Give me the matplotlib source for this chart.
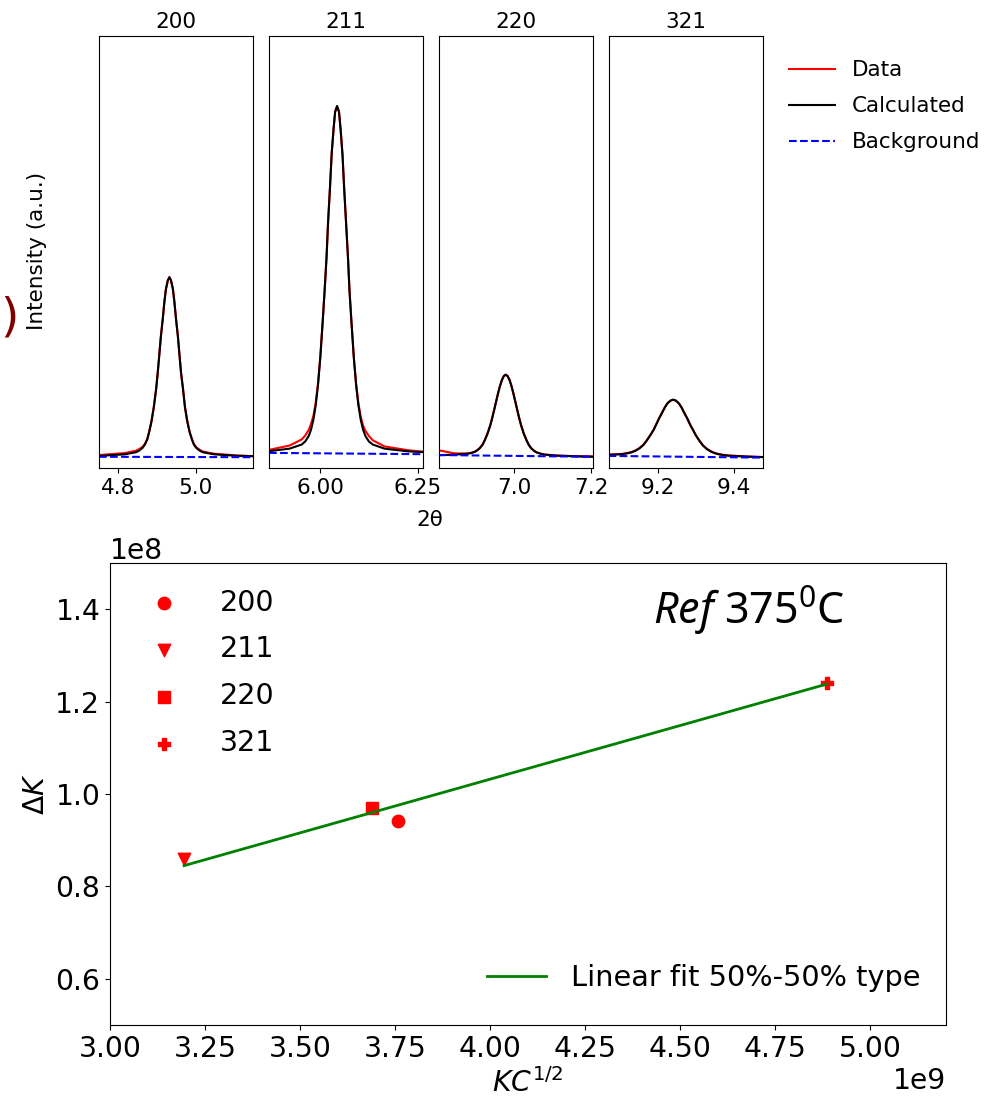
import matplotlib.pyplot as plt
from matplotlib.ticker import MultipleLocator

plt.rcParams['mathtext.rm'] = 'Noto Sans'
plt.rcParams['mathtext.it'] = 'Noto Sans:italic'

# --- Picos de difraccion (intensidad en % de la altura del panel) ---
reflexiones = ['200', '211', '220', '321']

tt_200 = [4.751, 4.817, 4.846, 4.854, 4.863, 4.869, 4.875, 4.880, 4.886, 4.892, 4.898, 4.902,
          4.906, 4.910, 4.915, 4.919, 4.923, 4.928, 4.932,
          4.936, 4.941, 4.945, 4.949, 4.954, 4.958, 4.962, 4.967, 4.972, 4.978, 4.984, 4.990,
          4.995, 5.001, 5.010, 5.018, 5.047, 5.105, 5.147]
calc_200 = [2.81, 3.16, 3.65, 4.01, 4.66, 5.42, 6.58, 8.31, 10.76, 14.09, 18.31, 22.03,
            26.09, 30.33, 34.51, 38.31, 41.40, 43.44, 44.15,
            43.44, 41.40, 38.31, 34.51, 30.33, 26.09, 22.03, 18.31, 14.09, 10.76, 8.31, 6.58,
            5.42, 4.66, 4.01, 3.65, 3.16, 2.83, 2.73]
dat_200 = [3.00, 3.45, 4.00, 4.35, 4.90, 5.60, 6.70, 8.40, 10.90, 14.20, 18.40, 22.10,
           26.20, 30.40, 34.60, 38.40, 41.30, 43.40, 44.20,
           43.50, 41.50, 38.40, 34.60, 30.40, 26.10, 22.00, 18.40, 14.20, 10.90, 8.40, 6.70,
           5.55, 4.80, 4.20, 3.80, 3.30, 2.90, 2.75]
fondo_tt_200 = [4.751, 5.147]
fondo_200 = [2.6, 2.5]

tt_211 = [5.868, 5.921, 5.952, 5.961, 5.970, 5.976, 5.982, 5.988, 5.994, 6.000, 6.006, 6.011,
          6.016, 6.020, 6.025, 6.029, 6.034, 6.038, 6.043,
          6.048, 6.052, 6.057, 6.061, 6.066, 6.071, 6.075, 6.080, 6.086, 6.092, 6.098, 6.104,
          6.110, 6.116, 6.125, 6.135, 6.165, 6.226, 6.264]
calc_211 = [3.89, 4.48, 5.43, 6.12, 7.39, 8.85, 11.10, 14.44, 19.19, 25.62, 33.80, 40.99,
            48.85, 57.06, 65.14, 72.51, 78.49, 82.42, 83.80,
            82.42, 78.49, 72.51, 65.14, 57.06, 48.85, 40.99, 33.80, 25.62, 19.19, 14.44, 11.10,
            8.85, 7.39, 6.12, 5.43, 4.48, 3.84, 3.68]
dat_211 = [4.20, 5.20, 6.60, 7.50, 8.80, 10.20, 12.00, 15.00, 19.60, 25.90, 33.90, 41.00,
           48.90, 57.10, 65.30, 72.60, 78.40, 82.40, 83.70,
           82.50, 78.60, 72.60, 65.20, 57.10, 48.90, 41.10, 33.90, 25.80, 19.50, 14.90, 11.80,
           9.80, 8.60, 7.40, 6.40, 5.00, 4.10, 3.80]
fondo_tt_211 = [5.868, 6.264]
fondo_211 = [3.5, 3.2]

tt_220 = [6.803, 6.844, 6.878, 6.888, 6.898, 6.904, 6.911, 6.918, 6.924, 6.931, 6.938, 6.943,
          6.948, 6.953, 6.958, 6.963, 6.968, 6.973, 6.978,
          6.983, 6.988, 6.993, 6.998, 7.003, 7.008, 7.013, 7.018, 7.025, 7.032, 7.038, 7.045,
          7.052, 7.058, 7.069, 7.079, 7.112, 7.179, 7.204]
calc_220 = [2.97, 3.08, 3.30, 3.46, 3.76, 4.10, 4.62, 5.40, 6.51, 8.01, 9.92, 11.60,
            13.44, 15.35, 17.24, 18.96, 20.36, 21.28, 21.60,
            21.28, 20.36, 18.96, 17.24, 15.35, 13.43, 11.58, 9.90, 7.98, 6.48, 5.36, 4.52,
            3.98, 3.62, 3.30, 3.10, 2.85, 2.66, 2.60]
dat_220 = [4.10, 3.40, 3.35, 3.50, 3.80, 4.15, 4.70, 5.50, 6.60, 8.10, 10.00, 11.70,
           13.50, 15.40, 17.30, 18.95, 20.30, 21.30, 21.60,
           21.30, 20.40, 19.00, 17.30, 15.40, 13.50, 11.60, 9.90, 7.95, 6.45, 5.35, 4.50,
           3.97, 3.64, 3.32, 3.12, 2.88, 2.70, 2.70]
fondo_tt_220 = [6.803, 7.204]
fondo_220 = [3.0, 2.6]

tt_321 = [9.072, 9.094, 9.109, 9.123, 9.133, 9.143, 9.153, 9.163, 9.172, 9.182, 9.190, 9.197,
          9.204, 9.212, 9.219, 9.226, 9.234, 9.241,
          9.248, 9.256, 9.263, 9.270, 9.278, 9.285, 9.293, 9.300, 9.310, 9.319, 9.329, 9.339,
          9.349, 9.359, 9.373, 9.388, 9.437, 9.474]
calc_321 = [3.06, 3.13, 3.22, 3.42, 3.65, 4.01, 4.55, 5.32, 6.36, 7.69, 8.86, 10.15,
            11.48, 12.80, 14.01, 14.98, 15.61, 15.83,
            15.59, 14.95, 13.96, 12.74, 11.41, 10.06, 8.76, 7.57, 6.22, 5.16, 4.37, 3.81,
            3.43, 3.18, 2.96, 2.83, 2.63, 2.52]
dat_321 = [3.10, 3.20, 3.28, 3.50, 3.72, 4.10, 4.62, 5.40, 6.42, 7.75, 8.90, 10.20,
           11.52, 12.85, 14.05, 15.00, 15.60, 15.80,
           15.60, 14.90, 13.95, 12.70, 11.38, 10.00, 8.72, 7.55, 6.22, 5.20, 4.42, 3.90,
           3.50, 3.25, 3.02, 2.90, 2.65, 2.55]
fondo_tt_321 = [9.072, 9.474]
fondo_321 = [2.8, 2.4]

picos = [
    (tt_200, dat_200, calc_200, fondo_tt_200, fondo_200),
    (tt_211, dat_211, calc_211, fondo_tt_211, fondo_211),
    (tt_220, dat_220, calc_220, fondo_tt_220, fondo_220),
    (tt_321, dat_321, calc_321, fondo_tt_321, fondo_321),
]
ticks_picos = [[4.8, 5.0], [6.00, 6.25], [7.0, 7.2], [9.2, 9.4]]
etiquetas_ticks = [['4.8', '5.0'], ['6.00', '6.25'], ['7.0', '7.2'], ['9.2', '9.4']]

# --- Williamson-Hall ---
kc = [3.758e9, 3.195e9, 3.689e9, 4.887e9]
dk = [0.9415e8, 0.859e8, 0.970e8, 1.2405e8]
marcadores = ['o', 'v', 's', 'P']
fit_pendiente = 0.02323
fit_ordenada = 0.1028e8

W, H = 989, 1101
fig = plt.figure(figsize=(W / 100, H / 100), dpi=100)


def ejes_px(x0, y0, x1, y1):
    # ejes dados en pixeles medidos desde arriba a la izquierda
    return fig.add_axes([x0 / W, 1 - y1 / H, (x1 - x0) / W, (y1 - y0) / H])


# Panel superior: 4 picos
izquierdas = [99, 269, 438.5, 608.5]
lineas = None
for i, (tt, dat, calc, ftt, fnd) in enumerate(picos):
    ax = ejes_px(izquierdas[i], 36, izquierdas[i] + 154, 468)
    l1, = ax.plot(tt, dat, color='red', lw=1.5, label='Data')
    l2, = ax.plot(tt, calc, color='black', lw=1.5, label='Calculated')
    l3, = ax.plot(ftt, fnd, color='blue', ls='--', lw=1.5, label='Background')
    lineas = [l1, l2, l3]
    ax.set_xlim(tt[0], tt[-1])
    ax.set_ylim(0, 100)
    ax.set_yticks([])
    ax.set_xticks(ticks_picos[i])
    ax.set_xticklabels(etiquetas_ticks[i])
    ax.tick_params(labelsize=15.5)
    ax.set_title(reflexiones[i], fontsize=15.5)

fig.legend(handles=lineas, loc='upper left', bbox_to_anchor=(770 / W, 1 - 41 / H),
           frameon=False, fontsize=15.5, handlelength=2.1, labelspacing=0.74)
fig.text(37 / W, 1 - 251 / H, 'Intensity (a.u.)', rotation=90, ha='center', va='center',
         fontsize=15.5)
fig.text(0, 1 - 318 / H, ')', color='#800000', fontsize=34, ha='left', va='center')
fig.text(430 / W, 1 - 510 / H, '2θ', ha='center', va='top', fontsize=15.5)

# Panel inferior: Williamson-Hall
ax2 = ejes_px(110, 563, 946, 1025)
puntos = []
for i in range(len(kc)):
    p = ax2.scatter(kc[i], dk[i], marker=marcadores[i], color='red', s=80,
                    label=reflexiones[i])
    puntos.append(p)

xs = [min(kc), max(kc)]
ys = [fit_pendiente * x + fit_ordenada for x in xs]
recta, = ax2.plot(xs, ys, color='green', lw=2, label='Linear fit 50%-50% type')

leg1 = ax2.legend(handles=puntos, loc='upper left', frameon=False, fontsize=20.5,
                  handlelength=2.0, handletextpad=0.95, labelspacing=0.66)
ax2.add_artist(leg1)
ax2.legend(handles=[recta], loc='lower right', bbox_to_anchor=(1, 7 / 462), frameon=False,
           fontsize=20.7, handlelength=2.05, handletextpad=0.85)

ax2.text(0.879, 0.955, r'$\mathit{Ref}$ 375$^{\mathrm{0}}$C', transform=ax2.transAxes,
         ha='right', va='top', fontsize=31, family='Noto Sans', math_fontfamily='custom')

ax2.set_xlim(3.0e9, 5.2e9)
ax2.set_ylim(0.5e8, 1.5e8)
ax2.xaxis.set_major_locator(MultipleLocator(0.25e9))
ax2.yaxis.set_major_locator(MultipleLocator(0.2e8))
ax2.tick_params(labelsize=20.3)
ax2.xaxis.get_offset_text().set_fontsize(20.3)
ax2.yaxis.get_offset_text().set_fontsize(20.3)
ax2.set_xlabel(r'$KC^{1/2}$', fontsize=20.3)
ax2.set_ylabel(r'$\Delta K$', fontsize=20.3)

fig.savefig('out.png', dpi=100)
